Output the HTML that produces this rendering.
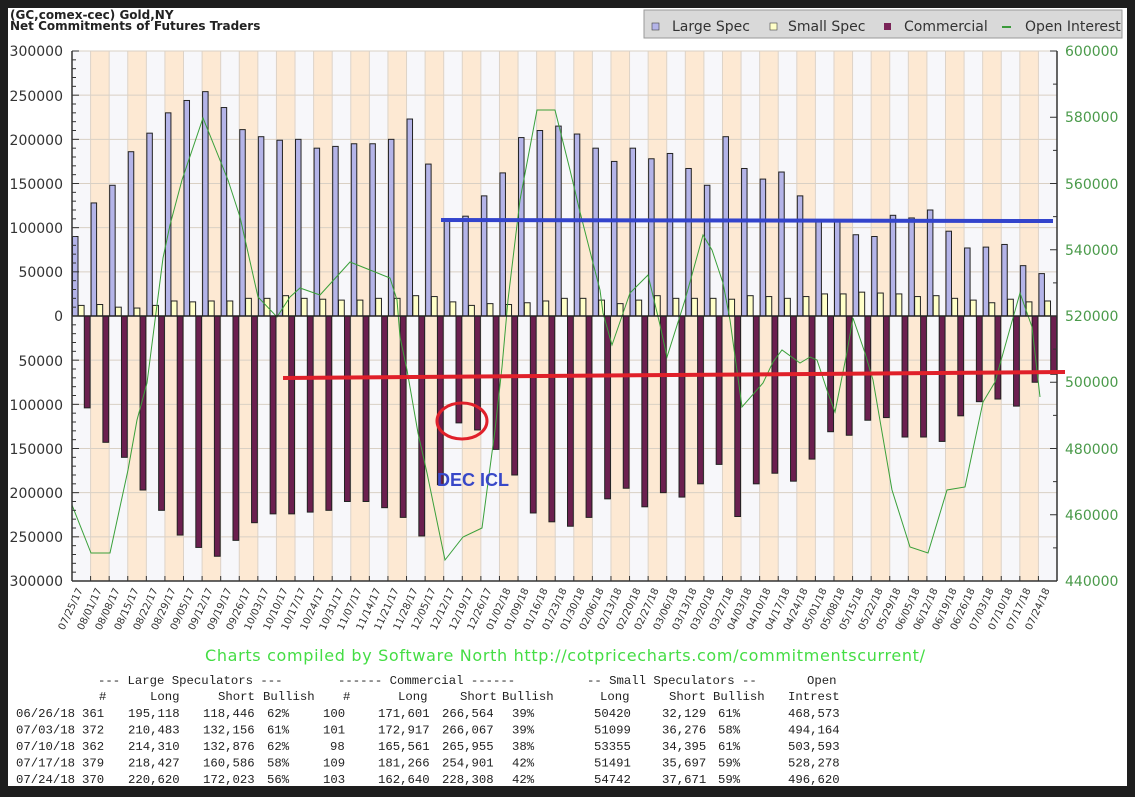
<!DOCTYPE html>
<html><head><meta charset="utf-8"><style>
html,body{margin:0;padding:0;background:#1e1e1e;width:1135px;height:797px;overflow:hidden}
svg{display:block}
.yl{font:14px "DejaVu Sans","Liberation Sans",sans-serif;fill:#333}
.yr{font:14px "DejaVu Sans","Liberation Sans",sans-serif;fill:#4a9a4a}
.xl{font:10px "DejaVu Sans","Liberation Sans",sans-serif;fill:#333}
.t{font:12.3px "Liberation Mono",monospace;fill:#222}
</style></head><body>
<svg id="s" width="1135" height="797" xmlns="http://www.w3.org/2000/svg">
<rect x="0" y="0" width="1135" height="797" fill="#1e1e1e"/>
<rect x="8" y="8" width="1119" height="778" fill="#ffffff"/>
<g id="plot"></g>
<text x="10" y="19" style="font:bold 12px 'DejaVu Sans',sans-serif;fill:#222">(GC,comex-cec) Gold,NY</text>
<text x="10" y="30" style="font:bold 12px 'DejaVu Sans',sans-serif;fill:#222">Net Commitments of Futures Traders</text>
<rect x="644" y="10" width="478" height="28" fill="#d9d9d9" stroke="#999"/>
<rect x="652" y="23" width="7" height="7" fill="#b4b4e8" stroke="#444" stroke-width="0.6"/>
<text x="672" y="31" style="font:14px 'DejaVu Sans',sans-serif;fill:#333">Large Spec</text>
<rect x="770" y="23" width="7" height="7" fill="#ffffc8" stroke="#444" stroke-width="0.6"/>
<text x="788" y="31" style="font:14px 'DejaVu Sans',sans-serif;fill:#333">Small Spec</text>
<rect x="884" y="23" width="7" height="7" fill="#7a2458"/>
<text x="904" y="31" style="font:14px 'DejaVu Sans',sans-serif;fill:#333">Commercial</text>
<rect x="1002" y="26" width="9" height="2" fill="#3a9a3a"/>
<text x="1025" y="31" style="font:14px 'DejaVu Sans',sans-serif;fill:#333">Open Interest</text>
<g text-anchor="end">
<text class="yl" x="63" y="56">300000</text><text class="yl" x="63" y="101">250000</text>
<text class="yl" x="63" y="145">200000</text><text class="yl" x="63" y="189">150000</text>
<text class="yl" x="63" y="233">100000</text><text class="yl" x="63" y="277">50000</text>
<text class="yl" x="63" y="321">0</text><text class="yl" x="63" y="366">50000</text>
<text class="yl" x="63" y="410">100000</text><text class="yl" x="63" y="454">150000</text>
<text class="yl" x="63" y="498">200000</text><text class="yl" x="63" y="542">250000</text>
<text class="yl" x="63" y="586">300000</text>
</g>
<text class="yr" x="1065" y="56">600000</text><text class="yr" x="1065" y="122">580000</text>
<text class="yr" x="1065" y="189">560000</text><text class="yr" x="1065" y="255">540000</text>
<text class="yr" x="1065" y="321">520000</text><text class="yr" x="1065" y="387">500000</text>
<text class="yr" x="1065" y="454">480000</text><text class="yr" x="1065" y="520">460000</text>
<text class="yr" x="1065" y="586">440000</text>
<g text-anchor="end">
<text class="xl" transform="translate(83,590) rotate(-65)">07/25/17</text>
<text class="xl" transform="translate(102,590) rotate(-65)">08/01/17</text>
<text class="xl" transform="translate(120,590) rotate(-65)">08/08/17</text>
<text class="xl" transform="translate(139,590) rotate(-65)">08/15/17</text>
<text class="xl" transform="translate(158,590) rotate(-65)">08/22/17</text>
<text class="xl" transform="translate(176,590) rotate(-65)">08/29/17</text>
<text class="xl" transform="translate(195,590) rotate(-65)">09/05/17</text>
<text class="xl" transform="translate(213,590) rotate(-65)">09/12/17</text>
<text class="xl" transform="translate(232,590) rotate(-65)">09/19/17</text>
<text class="xl" transform="translate(251,590) rotate(-65)">09/26/17</text>
<text class="xl" transform="translate(269,590) rotate(-65)">10/03/17</text>
<text class="xl" transform="translate(288,590) rotate(-65)">10/10/17</text>
<text class="xl" transform="translate(306,590) rotate(-65)">10/17/17</text>
<text class="xl" transform="translate(325,590) rotate(-65)">10/24/17</text>
<text class="xl" transform="translate(344,590) rotate(-65)">10/31/17</text>
<text class="xl" transform="translate(362,590) rotate(-65)">11/07/17</text>
<text class="xl" transform="translate(381,590) rotate(-65)">11/14/17</text>
<text class="xl" transform="translate(399,590) rotate(-65)">11/21/17</text>
<text class="xl" transform="translate(418,590) rotate(-65)">11/28/17</text>
<text class="xl" transform="translate(436,590) rotate(-65)">12/05/17</text>
<text class="xl" transform="translate(455,590) rotate(-65)">12/12/17</text>
<text class="xl" transform="translate(474,590) rotate(-65)">12/19/17</text>
<text class="xl" transform="translate(492,590) rotate(-65)">12/26/17</text>
<text class="xl" transform="translate(511,590) rotate(-65)">01/02/18</text>
<text class="xl" transform="translate(529,590) rotate(-65)">01/09/18</text>
<text class="xl" transform="translate(548,590) rotate(-65)">01/16/18</text>
<text class="xl" transform="translate(567,590) rotate(-65)">01/23/18</text>
<text class="xl" transform="translate(585,590) rotate(-65)">01/30/18</text>
<text class="xl" transform="translate(604,590) rotate(-65)">02/06/18</text>
<text class="xl" transform="translate(622,590) rotate(-65)">02/13/18</text>
<text class="xl" transform="translate(641,590) rotate(-65)">02/20/18</text>
<text class="xl" transform="translate(659,590) rotate(-65)">02/27/18</text>
<text class="xl" transform="translate(678,590) rotate(-65)">03/06/18</text>
<text class="xl" transform="translate(697,590) rotate(-65)">03/13/18</text>
<text class="xl" transform="translate(715,590) rotate(-65)">03/20/18</text>
<text class="xl" transform="translate(734,590) rotate(-65)">03/27/18</text>
<text class="xl" transform="translate(752,590) rotate(-65)">04/03/18</text>
<text class="xl" transform="translate(771,590) rotate(-65)">04/10/18</text>
<text class="xl" transform="translate(790,590) rotate(-65)">04/17/18</text>
<text class="xl" transform="translate(808,590) rotate(-65)">04/24/18</text>
<text class="xl" transform="translate(827,590) rotate(-65)">05/01/18</text>
<text class="xl" transform="translate(845,590) rotate(-65)">05/08/18</text>
<text class="xl" transform="translate(864,590) rotate(-65)">05/15/18</text>
<text class="xl" transform="translate(883,590) rotate(-65)">05/22/18</text>
<text class="xl" transform="translate(901,590) rotate(-65)">05/29/18</text>
<text class="xl" transform="translate(920,590) rotate(-65)">06/05/18</text>
<text class="xl" transform="translate(938,590) rotate(-65)">06/12/18</text>
<text class="xl" transform="translate(957,590) rotate(-65)">06/19/18</text>
<text class="xl" transform="translate(975,590) rotate(-65)">06/26/18</text>
<text class="xl" transform="translate(994,590) rotate(-65)">07/03/18</text>
<text class="xl" transform="translate(1013,590) rotate(-65)">07/10/18</text>
<text class="xl" transform="translate(1031,590) rotate(-65)">07/17/18</text>
<text class="xl" transform="translate(1050,590) rotate(-65)">07/24/18</text>
</g>
<text x="205" y="661" textLength="720" style="font:16px 'DejaVu Sans',sans-serif;fill:#44dd44">Charts compiled by Software North  http://cotpricecharts.com/commitmentscurrent/</text>
<g class="t">
<text class="t" x="98" y="684">--- Large Speculators ---</text>
<text class="t" x="338" y="684">------ Commercial ------</text>
<text class="t" x="587" y="684">-- Small Speculators --</text>
<text class="t" x="807" y="684">Open</text>
<text class="t" x="99" y="700">#</text><text class="t" x="150" y="700">Long</text><text class="t" x="218" y="700">Short</text><text class="t" x="263" y="700">Bullish</text>
<text class="t" x="343" y="700">#</text><text class="t" x="398" y="700">Long</text><text class="t" x="460" y="700">Short</text><text class="t" x="502" y="700">Bullish</text>
<text class="t" x="600" y="700">Long</text><text class="t" x="669" y="700">Short</text><text class="t" x="713" y="700">Bullish</text><text class="t" x="788" y="700">Intrest</text>
</g>
<g class="t">
<text class="t" y="717"><tspan x="16">06/26/18</tspan><tspan x="82">361</tspan><tspan x="128">195,118</tspan><tspan x="203">118,446</tspan><tspan x="267">62%</tspan><tspan x="323">100</tspan><tspan x="378">171,601</tspan><tspan x="442">266,564</tspan><tspan x="512">39%</tspan><tspan x="594">50420</tspan><tspan x="662">32,129</tspan><tspan x="718">61%</tspan><tspan x="788">468,573</tspan></text>
<text class="t" y="733.5"><tspan x="16">07/03/18</tspan><tspan x="82">372</tspan><tspan x="128">210,483</tspan><tspan x="203">132,156</tspan><tspan x="267">61%</tspan><tspan x="323">101</tspan><tspan x="378">172,917</tspan><tspan x="442">266,067</tspan><tspan x="512">39%</tspan><tspan x="594">51099</tspan><tspan x="662">36,276</tspan><tspan x="718">58%</tspan><tspan x="788">494,164</tspan></text>
<text class="t" y="750"><tspan x="16">07/10/18</tspan><tspan x="82">362</tspan><tspan x="128">214,310</tspan><tspan x="203">132,876</tspan><tspan x="267">62%</tspan><tspan x="330">98</tspan><tspan x="378">165,561</tspan><tspan x="442">265,955</tspan><tspan x="512">38%</tspan><tspan x="594">53355</tspan><tspan x="662">34,395</tspan><tspan x="718">61%</tspan><tspan x="788">503,593</tspan></text>
<text class="t" y="766.5"><tspan x="16">07/17/18</tspan><tspan x="82">379</tspan><tspan x="128">218,427</tspan><tspan x="203">160,586</tspan><tspan x="267">58%</tspan><tspan x="323">109</tspan><tspan x="378">181,266</tspan><tspan x="442">254,901</tspan><tspan x="512">42%</tspan><tspan x="594">51491</tspan><tspan x="662">35,697</tspan><tspan x="718">59%</tspan><tspan x="788">528,278</tspan></text>
<text class="t" y="783"><tspan x="16">07/24/18</tspan><tspan x="82">370</tspan><tspan x="128">220,620</tspan><tspan x="203">172,023</tspan><tspan x="267">56%</tspan><tspan x="323">103</tspan><tspan x="378">162,640</tspan><tspan x="442">228,308</tspan><tspan x="512">42%</tspan><tspan x="594">54742</tspan><tspan x="662">37,671</tspan><tspan x="718">59%</tspan><tspan x="788">496,620</tspan></text>
</g>
<g id="over">
<line x1="441" y1="220" x2="1053" y2="221" stroke="#3344cc" stroke-width="4"/>
<line x1="283" y1="378" x2="1065" y2="372" stroke="#e0202a" stroke-width="4"/>
<ellipse cx="462" cy="421" rx="25" ry="18" fill="none" stroke="#e0202a" stroke-width="3"/>
<text x="437" y="486" style="font:bold 18px 'Liberation Sans',sans-serif;fill:#3848c8">DEC ICL</text>
</g>
</svg>
<script>
(function(){
var NS="http://www.w3.org/2000/svg",g=document.getElementById("plot");
function el(t,a){var e=document.createElementNS(NS,t);for(var k in a)e.setAttribute(k,a[k]);g.appendChild(e);return e;}
var L=72,R=1057,T=51,B=581,N=53,W=(R-L)/N;
function y(v){return 316-v*0.8833;}
for(var i=0;i<N;i++){el("rect",{x:L+i*W,y:T,width:W,height:B-T,fill:i%2?"#fde9d3":"#f7f7fa"});
 el("line",{x1:L+i*W,y1:T,x2:L+i*W,y2:B,stroke:"#ddd3c8","stroke-width":1});}
for(var v=-300;v<=300;v+=50){el("line",{x1:L,y1:y(v),x2:R,y2:y(v),stroke:"#d9d0c4","stroke-width":1});}
var ls=[90,128,148,186,207,230,244,254,236,211,203,199,200,190,192,195,195,200,223,172,110,113,136,162,202,210,215,206,190,175,190,178,184,167,148,203,167,155,163,136,108,108,92,90,114,111,120,96,77,78,81,57,48];
var ss=[12,13,10,9,12,17,16,17,17,20,20,23,20,19,18,18,20,20,23,22,16,12,14,13,15,17,20,20,18,14,18,23,20,20,20,19,23,22,20,22,25,25,27,26,25,22,23,20,18,15,19,16,17];
var cm=[-104,-143,-160,-197,-220,-248,-262,-272,-254,-234,-224,-224,-222,-220,-210,-210,-217,-228,-249,-191,-121,-129,-151,-180,-223,-233,-238,-228,-207,-195,-216,-200,-205,-190,-168,-227,-190,-178,-187,-162,-131,-135,-118,-115,-137,-137,-142,-113,-97,-94,-102,-75,-66];
for(var i=0;i<N;i++){var x=L+i*W;
 el("rect",{x:x+0.5,y:y(ls[i]),width:5.5,height:316-y(ls[i]),fill:"#b4b4e8",stroke:"#222","stroke-width":1});
 el("rect",{x:x+6.3,y:y(ss[i]),width:5.8,height:316-y(ss[i]),fill:"#ffffc8",stroke:"#222","stroke-width":1});
 el("rect",{x:x+12.3,y:316,width:5.8,height:y(cm[i])-316,fill:"#6b1f4f",stroke:"#222","stroke-width":1});}
var oi=[[72,505],[91,553],[110,553],[128,470],[137,420],[147,383],[163,258],[170,225],[182,180],[203,118],[228,180],[240,217],[258,297],[277,317],[290,297],[300,288],[320,295],[350,262],[375,272],[390,278],[397,300],[400,337],[407,370],[418,433],[427,473],[445,560],[463,537],[482,528],[495,430],[502,367],[508,300],[520,200],[537,110],[555,110],[570,170],[580,212],[593,263],[600,290],[603,313],[612,345],[630,293],[648,275],[660,325],[667,357],[685,300],[703,235],[712,250],[723,283],[730,320],[742,407],[763,383],[773,362],[782,350],[800,363],[810,357],[817,360],[828,393],[835,412],[847,352],[853,318],[865,353],[873,380],[892,490],[910,547],[928,553],[947,490],[965,487],[983,402],[995,382],[1020,293],[1032,327],[1040,397]];
el("polyline",{points:oi.map(function(p){return p.join(",")}).join(" "),fill:"none",stroke:"#3aa03a","stroke-width":1});
el("line",{x1:L,y1:T,x2:L,y2:B,stroke:"#333","stroke-width":1.5});
el("line",{x1:R,y1:T,x2:R,y2:B,stroke:"#333","stroke-width":1.5});
el("line",{x1:L,y1:B,x2:R,y2:B,stroke:"#333","stroke-width":1.5});
el("line",{x1:L,y1:316,x2:R,y2:316,stroke:"#222","stroke-width":1.5});
for(var v=-300;v<=300;v+=10){var yy=y(v);el("line",{x1:L,y1:yy,x2:L+(v%50==0?7:4),y2:yy,stroke:"#333","stroke-width":1});}
for(var k=0;k<=16;k++){var yy=T+k*(B-T)/16;el("line",{x1:R-(k%2==0?7:4),y1:yy,x2:R,y2:yy,stroke:"#333","stroke-width":1});}
for(var i=0;i<=N;i++){el("line",{x1:L+i*W,y1:B,x2:L+i*W,y2:B-5,stroke:"#333","stroke-width":1});}
})();
</script>
</body></html>
